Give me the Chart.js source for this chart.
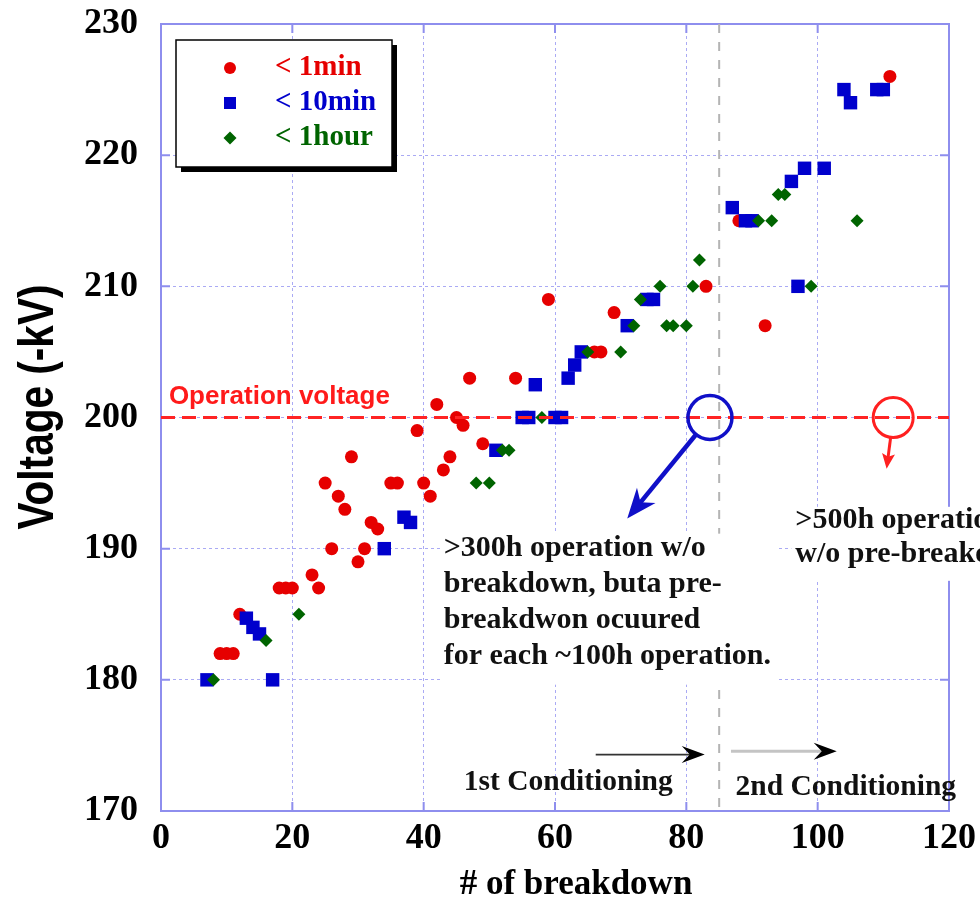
<!DOCTYPE html>
<html>
<head>
<meta charset="utf-8">
<script src="https://cdn.jsdelivr.net/npm/chart.js@4.4.1/dist/chart.umd.min.js"></script>
<style>
html,body{margin:0;padding:0;background:#fff;}
canvas{display:block;}
</style>
</head>
<body>
<canvas id="c" width="980" height="910"></canvas>
<script>
// ---- data ----
const xTicks = [0, 20, 40, 60, 80, 100, 120];
const yTicks = [170, 180, 190, 200, 210, 220, 230];

const min1X = [9,10,11,12,18,19,20,23,24,25,26,27,28,29,30,31,32,33,35,36,39,40,41,42,43,44,45,46,47,49,54,59,66,67,69,83,88,92,111];
const min1Y = [182,182,182,185,187,187,187,188,187,195,190,194,193,197,189,190,192,191.5,195,195,199,195,194,201,196,197,200,199.4,203,198,203,209,205,205,208,210,215,207,226];

const min10X = [7,13,14,15,17,34,37,38,51,55,56,57,60,61,62,63,64,71,74,75,87,89,90,96,97,98,101,104,105,109,110];
const min10Y = [180,184.7,184,183.5,180,190,192.4,192,197.5,200,200,202.5,200,200,203,204,205,207,209,209,216,215,215,218,210,219,219,225,224,225,225];

const hour1X = [8,16,21,48,50,52,53,58,65,70,72,73,76,77,78,80,81,82,91,93,94,95,99,106];
const hour1Y = [180,183,185,195,195,197.5,197.5,200,205,205,207,209,210,207,207,207,210,212,215,215,217,217,210,215];

const seriesNames = ['< 1min', '< 10min', '< 1hour'];
const operationVoltage = 200;
const conditioningBoundary = 85;

// ---- styling ----
const SERIF = "'Liberation Serif','Times New Roman',serif";
const SANS = "'Liberation Sans',Arial,sans-serif";
const RED = '#e60000', BLUE = '#0000cc', GREEN = '#006400';
const GRID = '#aaaaf4', FRAME = '#8e8eee';

function pts(xs, ys){ return xs.map((x,i)=>({x:x, y:ys[i]})); }

function arrow(ctx, x1, y1, x2, y2, lineColor, headColor, lw, headLen, headW, notch){
  const a = Math.atan2(y2-y1, x2-x1), c = Math.cos(a), s = Math.sin(a);
  ctx.save();
  ctx.setLineDash([]);
  ctx.strokeStyle = lineColor; ctx.lineWidth = lw; ctx.lineCap = 'butt';
  ctx.beginPath(); ctx.moveTo(x1, y1);
  ctx.lineTo(x2 - c*headLen*0.6, y2 - s*headLen*0.6); ctx.stroke();
  ctx.fillStyle = headColor;
  ctx.beginPath();
  ctx.moveTo(x2, y2);
  ctx.lineTo(x2 - c*headLen - s*headW/2, y2 - s*headLen + c*headW/2);
  ctx.lineTo(x2 - c*headLen*(1-notch), y2 - s*headLen*(1-notch));
  ctx.lineTo(x2 - c*headLen + s*headW/2, y2 - s*headLen - c*headW/2);
  ctx.closePath(); ctx.fill();
  ctx.restore();
}

const decor = {
  id: 'decor',
  beforeDatasetsDraw(chart){
    const ctx = chart.ctx, a = chart.chartArea, xs = chart.scales.x, ys = chart.scales.y;
    ctx.save();
    // frame
    ctx.setLineDash([]);
    ctx.strokeStyle = FRAME; ctx.lineWidth = 2;
    ctx.strokeRect(a.left, a.top, a.right - a.left, a.bottom - a.top);
    // inner tick marks
    ctx.lineWidth = 2;
    ctx.beginPath();
    yTicks.forEach(v => { const y = ys.getPixelForValue(v);
      ctx.moveTo(a.left, y); ctx.lineTo(a.left + 9, y);
      ctx.moveTo(a.right, y); ctx.lineTo(a.right - 9, y); });
    xTicks.forEach(v => { const x = xs.getPixelForValue(v);
      ctx.moveTo(x, a.bottom); ctx.lineTo(x, a.bottom - 9);
      ctx.moveTo(x, a.top); ctx.lineTo(x, a.top + 9); });
    ctx.stroke();
    // conditioning boundary
    const bx = xs.getPixelForValue(conditioningBoundary);
    ctx.strokeStyle = '#b4b4b4'; ctx.lineWidth = 2; ctx.setLineDash([9, 9]);
    ctx.beginPath(); ctx.moveTo(bx, a.top); ctx.lineTo(bx, a.bottom); ctx.stroke();
    ctx.setLineDash([]);

    // text blocks with white backgrounds
    ctx.font = 'bold 30px ' + SERIF;
    ctx.textBaseline = 'middle'; ctx.textAlign = 'left';
    const t1x = xs.getPixelForValue(43.05), t1y = ys.getPixelForValue(190);
    const lines1 = ['>300h operation w/o', 'breakdown, buta pre-', 'breakdwon ocuured', 'for each ~100h operation.'];
    ctx.fillStyle = '#fff';
    ctx.fillRect(t1x - 3, t1y - 15, 336, 151);
    const t2x = xs.getPixelForValue(96.6), t2y = ys.getPixelForValue(192.2);
    const lines2 = ['>500h operation', 'w/o pre-breakdown'];
    ctx.fillRect(t2x - 4, t2y - 13, 300, 74);
    ctx.fillStyle = '#111';
    lines1.forEach((t, i) => ctx.fillText(t, t1x, t1y + i*36));
    lines2.forEach((t, i) => ctx.fillText(t, t2x, t2y + i*34));
    ctx.restore();
  },
  afterDatasetsDraw(chart){
    const ctx = chart.ctx, a = chart.chartArea, xs = chart.scales.x, ys = chart.scales.y;
    ctx.save();
    // operation voltage line
    const oy = ys.getPixelForValue(operationVoltage);
    ctx.strokeStyle = '#ff2424'; ctx.lineWidth = 3; ctx.setLineDash([14, 7]);
    ctx.beginPath(); ctx.moveTo(a.left, oy); ctx.lineTo(a.right, oy); ctx.stroke();
    ctx.setLineDash([]);
    ctx.fillStyle = '#ff1a1a'; ctx.font = 'bold 26px ' + SANS;
    ctx.textBaseline = 'middle'; ctx.textAlign = 'left';
    ctx.fillText('Operation voltage', xs.getPixelForValue(1.2), ys.getPixelForValue(201.6));

    // blue circle + arrow
    const bcx = xs.getPixelForValue(83.6), bcy = oy, br = 22;
    ctx.strokeStyle = '#1010c8'; ctx.lineWidth = 3.5;
    ctx.beginPath(); ctx.arc(bcx, bcy, br, 0, Math.PI*2); ctx.stroke();
    const btx = xs.getPixelForValue(71.0), bty = ys.getPixelForValue(192.3);
    let d = Math.hypot(btx-bcx, bty-bcy);
    arrow(ctx, bcx + (btx-bcx)/d*br, bcy + (bty-bcy)/d*br, btx, bty, '#1010c8', '#1010c8', 4.5, 30, 24, 0.3);

    // red circle + arrow
    const rcx = xs.getPixelForValue(111.5), rcy = oy, rr = 20;
    ctx.strokeStyle = '#ff2020'; ctx.lineWidth = 3;
    ctx.beginPath(); ctx.arc(rcx, rcy, rr, 0, Math.PI*2); ctx.stroke();
    const rtx = xs.getPixelForValue(110.5), rty = ys.getPixelForValue(196.1);
    d = Math.hypot(rtx-rcx, rty-rcy);
    arrow(ctx, rcx + (rtx-rcx)/d*rr, rcy + (rty-rcy)/d*rr, rtx, rty, '#ff2020', '#ff2020', 3, 15, 13, 0.2);

    // conditioning arrows and labels
    arrow(ctx, xs.getPixelForValue(66.2), ys.getPixelForValue(174.3), xs.getPixelForValue(82.8), ys.getPixelForValue(174.3), '#333', '#000', 1.8, 23, 17, 0.35);
    arrow(ctx, xs.getPixelForValue(86.8), ys.getPixelForValue(174.55), xs.getPixelForValue(102.9), ys.getPixelForValue(174.55), '#c4c4c4', '#000', 3, 23, 17, 0.35);
    ctx.fillStyle = '#111'; ctx.font = 'bold 29.5px ' + SERIF; ctx.textBaseline = 'middle';
    ctx.fillText('1st Conditioning', xs.getPixelForValue(46.1), ys.getPixelForValue(172.2));
    ctx.fillText('2nd Conditioning', xs.getPixelForValue(87.5), ys.getPixelForValue(171.8));

    // legend box
    const lx = a.left + 15, ly = a.top + 16, lw = 216, lh = 127;
    ctx.fillStyle = '#000'; ctx.fillRect(lx + 5, ly + 5, lw, lh);
    ctx.fillStyle = '#fff'; ctx.fillRect(lx, ly, lw, lh);
    ctx.strokeStyle = '#000'; ctx.lineWidth = 1.5; ctx.strokeRect(lx, ly, lw, lh);
    const mx = lx + 54, tx = lx + 99;
    const rows = [ly + 28, ly + 63, ly + 98];
    const cols = [RED, BLUE, GREEN];
    ctx.fillStyle = RED; ctx.beginPath(); ctx.arc(mx, rows[0], 6, 0, Math.PI*2); ctx.fill();
    ctx.fillStyle = BLUE; ctx.fillRect(mx - 6, rows[1] - 6, 12, 12);
    ctx.fillStyle = GREEN; ctx.beginPath();
    ctx.moveTo(mx, rows[2] - 6.5); ctx.lineTo(mx + 6.5, rows[2]); ctx.lineTo(mx, rows[2] + 6.5); ctx.lineTo(mx - 6.5, rows[2]); ctx.closePath(); ctx.fill();
    ctx.font = 'bold 29px ' + SERIF; ctx.textBaseline = 'middle'; ctx.textAlign = 'left';
    seriesNames.forEach((n, i) => { ctx.fillStyle = cols[i]; ctx.fillText(n, tx, rows[i]); });

    ctx.restore();
  },
  afterDraw(chart){
    const ctx = chart.ctx;
    // y axis title (condensed bold sans)
    ctx.save();
    ctx.translate(53, 407);
    ctx.rotate(-Math.PI/2);
    ctx.font = 'bold 50px ' + SANS;
    const w = ctx.measureText('Voltage (-kV)').width;
    ctx.scale(245 / w, 1);
    ctx.fillStyle = '#000'; ctx.textAlign = 'center'; ctx.textBaseline = 'alphabetic';
    ctx.fillText('Voltage (-kV)', 0, 0);
    ctx.restore();
    // x axis title
    ctx.save();
    ctx.font = 'bold 35px ' + SERIF;
    ctx.fillStyle = '#000'; ctx.textAlign = 'center'; ctx.textBaseline = 'middle';
    ctx.fillText('# of breakdown', 576, 885);
    ctx.restore();
  }
};

new Chart(document.getElementById('c'), {
  type: 'scatter',
  data: {
    datasets: [
      { label: seriesNames[0], data: pts(min1X, min1Y), pointStyle: 'circle', pointRadius: 6.5, backgroundColor: RED, borderWidth: 0, order: 2 },
      { label: seriesNames[1], data: pts(min10X, min10Y), pointStyle: 'rect', pointRadius: 9.5, backgroundColor: BLUE, borderWidth: 0, order: 1 },
      { label: seriesNames[2], data: pts(hour1X, hour1Y), pointStyle: 'rectRot', pointRadius: 6.5, backgroundColor: GREEN, borderWidth: 0, order: 0 }
    ]
  },
  options: {
    responsive: false,
    animation: false,
    events: [],
    layout: { padding: { top: 24, right: 31, left: 0, bottom: 0 } },
    plugins: { legend: { display: false }, tooltip: { enabled: false } },
    scales: {
      x: {
        type: 'linear', min: xTicks[0], max: xTicks[xTicks.length-1],
        afterBuildTicks(s){ s.ticks = xTicks.map(v => ({value: v})); },
        ticks: { font: { family: SERIF, size: 36, weight: 'bold' }, color: '#000', padding: 6, maxRotation: 0, autoSkip: false },
        grid: { color: GRID, lineWidth: 1, drawTicks: false },
        border: { display: false, dash: [3, 3] },
        title: { display: false, text: '# of breakdown' },
        afterFit(s){ s.height = 99; s.paddingLeft = 0; s.paddingRight = 0; }
      },
      y: {
        type: 'linear', min: yTicks[0], max: yTicks[yTicks.length-1],
        afterBuildTicks(s){ s.ticks = yTicks.map(v => ({value: v})); },
        ticks: { font: { family: SERIF, size: 36, weight: 'bold' }, color: '#000', padding: 23, autoSkip: false },
        grid: { color: GRID, lineWidth: 1, drawTicks: false },
        border: { display: false, dash: [3, 3] },
        title: { display: false, text: 'Voltage (-kV)' },
        afterFit(s){ s.width = 161; s.paddingTop = 0; s.paddingBottom = 0; }
      }
    }
  },
  plugins: [decor]
});
</script>
</body>
</html>
